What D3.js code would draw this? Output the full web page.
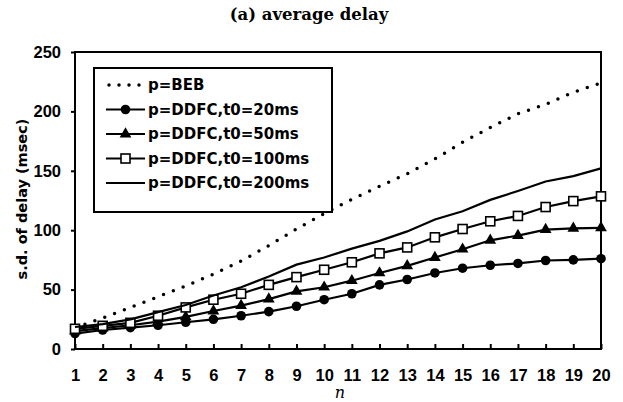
<!DOCTYPE html>
<html><head><meta charset="utf-8">
<script src="https://cdn.jsdelivr.net/npm/d3@7"></script>
<style>
body{margin:0;background:#fff;}
svg{display:block;}
text{font-family:"Liberation Sans",Arial,sans-serif;font-weight:bold;fill:#000;}
</style></head>
<body><svg id="c" width="623" height="402"></svg>
<script>
const nValues = [1,2,3,4,5,6,7,8,9,10,11,12,13,14,15,16,17,18,19,20];
const seriesNames = ["p=BEB","p=DDFC,t0=20ms","p=DDFC,t0=50ms","p=DDFC,t0=100ms","p=DDFC,t0=200ms"];
const beb     = [18,26,35,44,53,63,74,87,101,114,126,137,147.5,160,174,186.5,198,206,216,224];
const ddfc20  = [13,16,18,20,22.5,25,28,31.5,36,41.5,46.5,54,58.5,64,68,70.5,72,74.5,75,76];
const ddfc50  = [15,17.5,20,23,27,32,36.5,42,48.5,52,57.5,64,70,77,84,91.5,95.5,100.5,101.5,102];
const ddfc100 = [17,19.5,22,28,35,41.5,46.5,54,60.5,66.7,73,80.5,85.5,94,101,107.5,112,119.5,124.5,128.5];
const ddfc200 = [18.5,21,25,31,37,45,52,61,71,77,84.5,91,99,109,116,125.5,133,141,145.5,152];
const yTicks = [0,50,100,150,200,250];
const titleText = "(a) average delay";
const yTitle = "s.d. of delay (msec)";
const xTitle = "n";

const svg = d3.select("#c");
const L=75, R=601, T=52, B=349;
const x = d3.scaleLinear().domain([1,20]).range([L,R]);
const y = d3.scaleLinear().domain([0,250]).range([B,T]);

svg.append("text").attr("x",309).attr("y",20).attr("text-anchor","middle")
  .style("font-family","'DejaVu Serif',serif").style("font-size","16.5px").text(titleText);

// y axis
const ya = svg.append("g").attr("transform",`translate(${L},0)`)
  .call(d3.axisLeft(y).tickValues(yTicks).tickSize(4).tickPadding(10));
ya.select(".domain").remove();
ya.selectAll("line").attr("stroke","#000").attr("stroke-width",2);
ya.selectAll("text").style("font-size","16.5px").style("font-family","'Liberation Sans',Arial,sans-serif");

// x axis (inner ticks)
const xa = svg.append("g").attr("transform",`translate(0,${B})`)
  .call(d3.axisBottom(x).tickValues(nValues).tickFormat(d3.format("d")).tickSize(-5).tickPadding(20));
xa.select(".domain").remove();
xa.selectAll("line").attr("stroke","#000").attr("stroke-width",2);
xa.selectAll("text").style("font-size","16.5px").style("font-family","'Liberation Sans',Arial,sans-serif");

// frame
svg.append("rect").attr("x",L).attr("y",T).attr("width",R-L).attr("height",B-T)
  .attr("fill","none").attr("stroke","#000").attr("stroke-width",2);

svg.append("text").attr("transform","translate(27,199) rotate(-90)").attr("text-anchor","middle")
  .style("font-family","'DejaVu Sans',sans-serif").style("font-size","14.5px").text(yTitle);
svg.append("text").attr("x",340).attr("y",398).attr("text-anchor","middle")
  .style("font-family","'DejaVu Serif',serif")
  .style("font-size","16px").style("font-style","italic").style("font-weight","normal").text(xTitle);

const line = d3.line().x((d,i)=>x(nValues[i])).y(d=>y(d));
const g = svg.append("g");

function marker(sel, type){
  if(type==="circle") sel.append("circle").attr("r",4.8).attr("fill","#000");
  else if(type==="tri") sel.append("path").attr("d",d3.symbol(d3.symbolTriangle,60)()).attr("fill","#000");
  else if(type==="square") sel.append("rect").attr("x",-4.5).attr("y",-4.5).attr("width",9).attr("height",9)
      .attr("fill","#fff").attr("stroke","#000").attr("stroke-width",1.6);
}
const series = [
  {data:beb, type:"dot"},
  {data:ddfc20, type:"circle"},
  {data:ddfc50, type:"tri"},
  {data:ddfc100, type:"square"},
  {data:ddfc200, type:"none"}
];
series.forEach(s=>{
  const p = g.append("path").attr("d",line(s.data)).attr("fill","none").attr("stroke","#000");
  if(s.type==="dot") p.attr("stroke-width",3.5).attr("stroke-linecap","round").attr("stroke-dasharray","0 10.5");
  else p.attr("stroke-width",2.2);
  if(["circle","tri","square"].includes(s.type)){
    s.data.forEach((v,i)=>{
      const m = g.append("g").attr("transform",`translate(${x(nValues[i])},${y(v)})`);
      marker(m, s.type);
    });
  }
});

// legend
const lg = svg.append("g");
lg.append("rect").attr("x",94).attr("y",68).attr("width",238).attr("height",144)
  .attr("fill","#fff").attr("stroke","#000").attr("stroke-width",2);
series.forEach((s,i)=>{
  const yy = 85 + i*24.5;
  const p = lg.append("line").attr("x1",106).attr("x2",145).attr("y1",yy).attr("y2",yy).attr("stroke","#000");
  if(s.type==="dot") p.attr("stroke-width",3.5).attr("stroke-linecap","round").attr("stroke-dasharray","0 10").attr("x1",109);
  else p.attr("stroke-width",2.2);
  if(["circle","tri","square"].includes(s.type)){
    const m = lg.append("g").attr("transform",`translate(125.5,${yy})`);
    marker(m, s.type);
  }
  lg.append("text").attr("x",148).attr("y",yy).attr("dy","0.36em")
    .style("font-family","'DejaVu Sans',sans-serif").style("font-size","15px").text(seriesNames[i]);
});
</script></body></html>
